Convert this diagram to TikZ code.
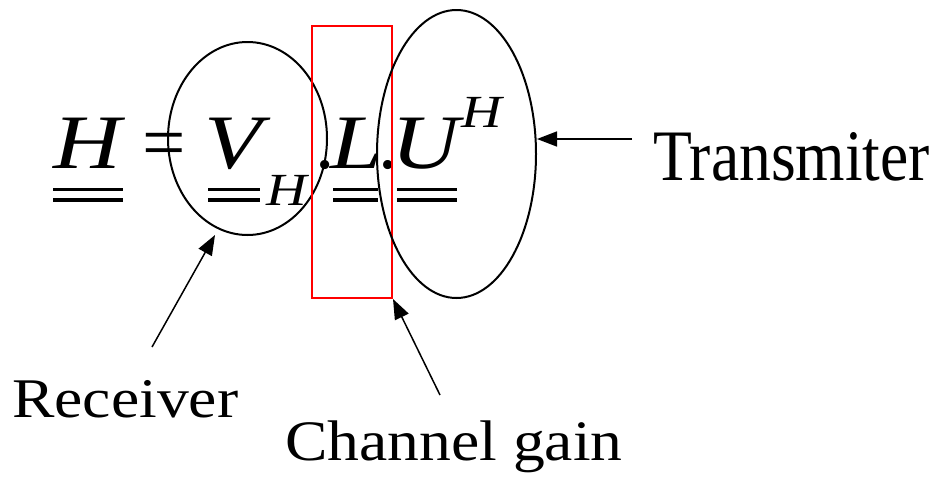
\documentclass[tikz,border=0pt]{standalone}
\usepackage{fontspec}
\setmainfont{Liberation Serif}
\usetikzlibrary{shapes.geometric,arrows.meta}
\newcommand{\wideglyph}[1]{\scalebox{1.22}[1]{#1}}
\tikzset{
  eqbig/.style={inner sep=0pt, anchor=base west, font=\fontsize{77}{80}\selectfont\itshape},
  eqsmall/.style={inner sep=0pt, anchor=base west, font=\fontsize{46}{50}\selectfont\itshape},
  eqsym/.style={inner sep=0pt, anchor=base west, font=\fontsize{77}{80}\selectfont},
  lbl/.style={inner sep=0pt, anchor=base west, font=\fontsize{63.6}{70}\selectfont},
  ring/.style={draw, line width=2pt, ellipse, inner sep=0pt},
  arr/.style={line width=1.5pt, -{Triangle[length=20pt,width=15pt]}},
  dbl/.style={line width=3.5pt},
}
\begin{document}
\begin{tikzpicture}[x=1pt,y=-1pt]
\useasboundingbox (0,0) rectangle (935,477);
% equation glyphs
\node[eqbig] (h) at (53,168) {\wideglyph{H}};
\node[eqsym] (eq) at (142.5,168) {=};
\node[eqbig] (v) at (204,168) {\wideglyph{V}};
\node[eqsmall] (vs) at (266,205) {\wideglyph{H}};
\node[eqsym] (d1) at (315.4,168) {.};
\node[eqbig] (l) at (330,168) {\wideglyph{L}};
\node[eqsym] (d2) at (378.4,168) {.};
\node[eqbig] (u) at (391,168) {\wideglyph{U}};
\node[eqsmall] (us) at (461,127) {\wideglyph{H}};
% double underlines
\foreach \a/\b in {53/123, 208/260, 333/378, 397/457}{
  \draw[dbl] (\a,189.5) -- (\b,189.5);
  \draw[dbl] (\a,199.8) -- (\b,199.8);
}
% shapes
\node[ring, minimum width=159pt, minimum height=193pt] (rE) at (247.5,138.5) {};
\node[draw=red, line width=2pt, minimum width=80pt, minimum height=272pt, inner sep=0pt] (box) at (352,162) {};
\node[ring, minimum width=159pt, minimum height=288pt] (tE) at (456.5,154) {};
% labels
\node[lbl] (tl) at (653,180) {\scalebox{1}[1.14]{Transmiter}};
\node[lbl] (rl) at (12,417) {\scalebox{1}[0.88]{Receiver}};
\node[lbl] (cl) at (285,460) {\scalebox{1}[0.9]{Channel gain}};
% connectors
\coordinate (ttail) at (632,139);
\coordinate (rtail) at (152,347);
\coordinate (rtip) at (215,235);
\coordinate (ctail) at (440,395);
\draw[arr] (ttail) -- (tE.east |- ttail);
\draw[arr] (rtail) -- (rtip);
\draw[arr] (ctail) -- (box.south east);
\end{tikzpicture}
\end{document}
